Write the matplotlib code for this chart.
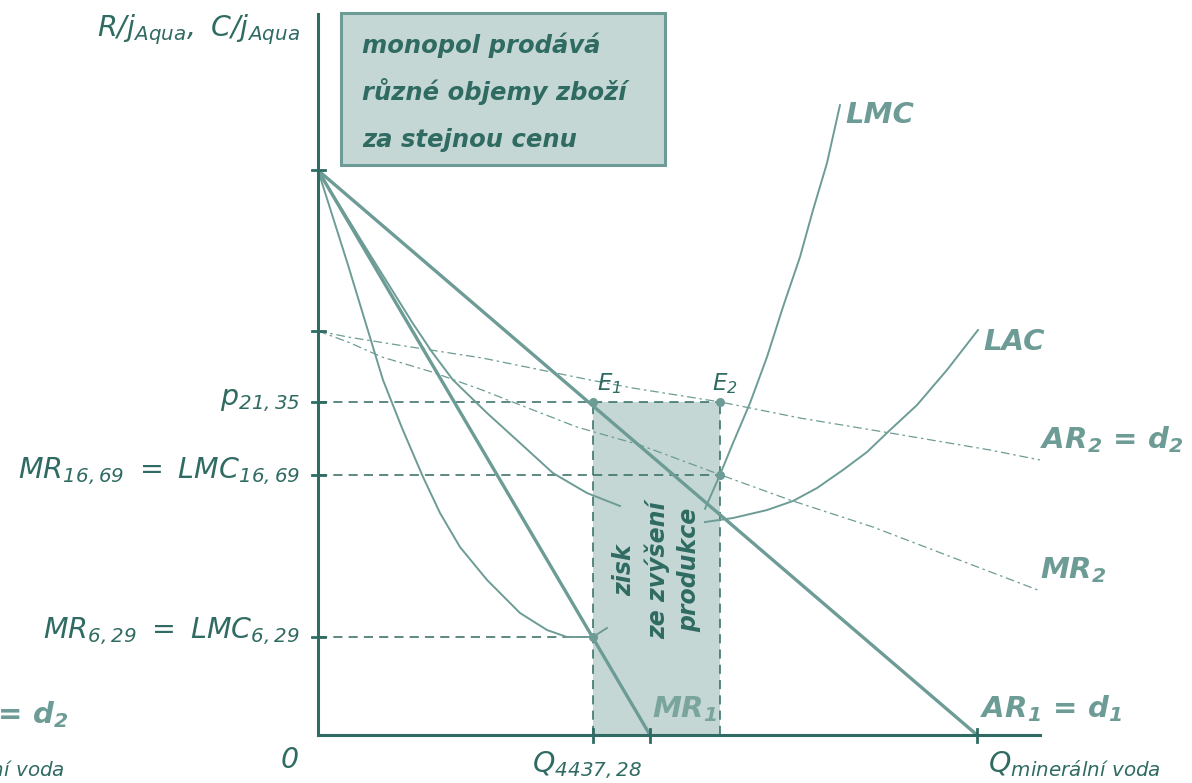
import numpy as np
import matplotlib.pyplot as plt
from matplotlib.patches import Rectangle

plt.rcParams['font.family'] = ['DejaVu Sans']
plt.rcParams['mathtext.default'] = 'regular'

DARK = '#2f6b62'
LIGHT = '#6c9c95'
FILL = '#c4d7d4'

# equilibrium values (quantity, price)
q_e1 = 4437.28
q_e2 = 6484
p_top = 36.2
p_ar2_start = 25.9
p_e = 21.35
p_mr_e2 = 16.69
p_mr_e1 = 6.29

# straight lines
ar1_q = [0, 10630]
ar1_p = [p_top, 0]
mr1_q = [0, 5355]
mr1_p = [p_top, 0]

# thin curve dropping to MR1 = LMC at 6,29
cur_a_q = [0, 484, 1048, 1355, 1694, 1968, 2290, 2726, 3258, 3694, 4016, 4339, 4437.28, 4661]
cur_a_p = [36.2, 30.13, 22.76, 19.68, 16.54, 14.23, 12.05, 9.94, 7.82, 6.73, 6.28, 6.28, 6.29, 6.86]

# thin curve leaving MR1
cur_b_q = [0, 742, 1516, 1839, 2177, 2726, 3258, 3790, 4339, 4871]
cur_b_p = [36.2, 31.41, 26.47, 24.55, 22.76, 20.64, 18.72, 16.79, 15.51, 14.68]

# LMC and LAC
lmc_q = [6242, 6484, 6694, 6968, 7242, 7500, 7774, 7984, 8210, 8419]
lmc_p = [14.5, 16.69, 18.72, 21.28, 24.23, 27.44, 30.64, 33.65, 36.67, 40.38]
lac_q = [6242, 6694, 7242, 7661, 8048, 8468, 8855, 9226, 9661, 10145, 10645]
lac_p = [13.65, 13.91, 14.42, 15.0, 15.83, 16.99, 18.14, 19.55, 21.15, 23.40, 25.96]

# dashed AR2 and MR2
ar2_q = [0, 484, 1290, 2645, 4387, 5081, 6484, 7774, 9226, 10839, 11645]
ar2_p = [25.9, 25.51, 25.0, 24.17, 22.76, 22.24, 21.35, 20.32, 19.36, 18.27, 17.63]
mr2_q = [0, 484, 1032, 1839, 2645, 3097, 4177, 5194, 6484, 7613, 8952, 11613]
mr2_p = [25.9, 25.19, 24.23, 23.27, 22.12, 21.41, 19.74, 18.59, 16.69, 15.06, 13.33, 9.29]

y_ticks = [p_top, p_ar2_start, p_e, p_mr_e2, p_mr_e1]
x_ticks = [q_e1, 5355, 10630]

fig = plt.figure(figsize=(11.92, 7.83), dpi=100)
ax = fig.add_axes([0, 0, 1, 1])
ax.set_xlim(-318 / 0.062, 874 / 0.062)
ax.set_ylim(-48 / 15.6, 735 / 15.6)
ax.axis('off')

# profit rectangle
ax.add_patch(Rectangle((q_e1, 0), q_e2 - q_e1, p_e, facecolor=FILL, edgecolor='none', zorder=1))

# dashed guides
gd = dict(color=DARK, lw=1.1, dashes=(6, 4), zorder=2)
ax.plot([0, q_e2], [p_e, p_e], **gd)
ax.plot([0, q_e2], [p_mr_e2, p_mr_e2], **gd)
ax.plot([0, q_e1], [p_mr_e1, p_mr_e1], **gd)
ax.plot([q_e1, q_e1], [0, p_e], **gd)
ax.plot([q_e2, q_e2], [0, p_e], **gd)

# dashed demand / MR 2
ax.plot(ar2_q, ar2_p, color=LIGHT, lw=0.9, dashes=(7, 3, 2, 3), zorder=3)
ax.plot(mr2_q, mr2_p, color=LIGHT, lw=0.9, dashes=(7, 3, 2, 3), zorder=3)

# thin curves
for cq, cp in [(cur_a_q, cur_a_p), (cur_b_q, cur_b_p), (lmc_q, lmc_p), (lac_q, lac_p)]:
    ax.plot(cq, cp, color=LIGHT, lw=1.4, zorder=3, solid_joinstyle='round')

# thick lines
ax.plot(ar1_q, ar1_p, color=LIGHT, lw=2.4, zorder=4, solid_capstyle='butt')
ax.plot(mr1_q, mr1_p, color=LIGHT, lw=2.4, zorder=4, solid_capstyle='butt')

# axes
ax.plot([0, 0], [0, 46.2], color=DARK, lw=2.2, zorder=5)
ax.plot([0, 11645], [0, 0], color=DARK, lw=2.2, zorder=5)
for yt in y_ticks:
    ax.plot([-97, 113], [yt, yt], color=DARK, lw=2.0, zorder=5)
for xt in x_ticks:
    ax.plot([xt, xt], [0.38, -0.45], color=DARK, lw=2.0, zorder=5)

# points
ax.plot([q_e1, q_e2, q_e2, q_e1], [p_e, p_e, p_mr_e2, p_mr_e1], 'o', color=LIGHT, ms=5.5, zorder=6)

# info box
ax.add_patch(Rectangle((371, 36.54), 5226, 9.74, facecolor=FILL, edgecolor=LIGHT, lw=2.2, zorder=5))
box_lines = ['monopol prodává', 'různé objemy zboží', 'za stejnou cenu']
for i, t in enumerate(box_lines):
    ax.text(710, 43.7 - i * 3.01, t, color=DARK, fontsize=17.5, fontweight='bold', fontstyle='italic',
            va='baseline', ha='left', zorder=6)

ax.text(5468, 10.58, 'zisk\nze zvýšení\nprodukce', rotation=90, color=DARK, fontsize=17,
        fontweight='bold', fontstyle='italic', ha='center', va='center', multialignment='center',
        linespacing=1.4, zorder=6)

# plain label style
lab = dict(color=DARK, fontsize=20.5, fontstyle='italic', va='baseline')
ax.text(-290, 44.8, r'$R/j_{Aqua},\ C/j_{Aqua}$', ha='right', **lab)
ax.text(-290, 21.15, r'$p_{21,35}$', ha='right', **lab)
ax.text(-290, 16.47, r'$MR_{16,69}\ =\ LMC_{16,69}$', ha='right', **lab)
ax.text(-290, 6.22, r'$MR_{6,29}\ =\ LMC_{6,29}$', ha='right', **lab)
ax.text(-452, -2.12, '0', ha='center', **lab)
ax.text(3452, -2.4, r'$Q_{4437,28}$', ha='left', **lab)
ax.text(10806, -2.4, r'$Q_{minerální\ voda}$', ha='left', **lab)
ax.text(-4081, -2.4, r'$Q_{minerální\ voda}$', ha='right', **lab)

el = dict(color=DARK, fontsize=16.5, fontstyle='italic', va='baseline', ha='left', zorder=6)
ax.text(4500, 22.12, r'$E_1$', **el)
ax.text(6355, 22.12, r'$E_2$', **el)

# curve names
bl = dict(color=LIGHT, fontsize=21, fontstyle='italic', fontweight='bold', va='baseline', ha='left', zorder=6)
ax.text(8500, 39.23, 'LMC', **bl)
ax.text(10726, 24.68, 'LAC', **bl)
ax.text(11645, 18.4, r'$AR_2\,=\,d_2$', **bl)
ax.text(11645, 10.06, r'$MR_2$', **bl)
ax.text(10677, 1.15, r'$AR_1\,=\,d_1$', **bl)
ax.text(5387, 1.15, r'$MR_1$', **dict(bl, color='#7aa59e'))
ax.text(-4032, 0.77, r'$AR_2\,=\,d_2$', **dict(bl, ha='right'))

fig.savefig('out.png', dpi=100)
